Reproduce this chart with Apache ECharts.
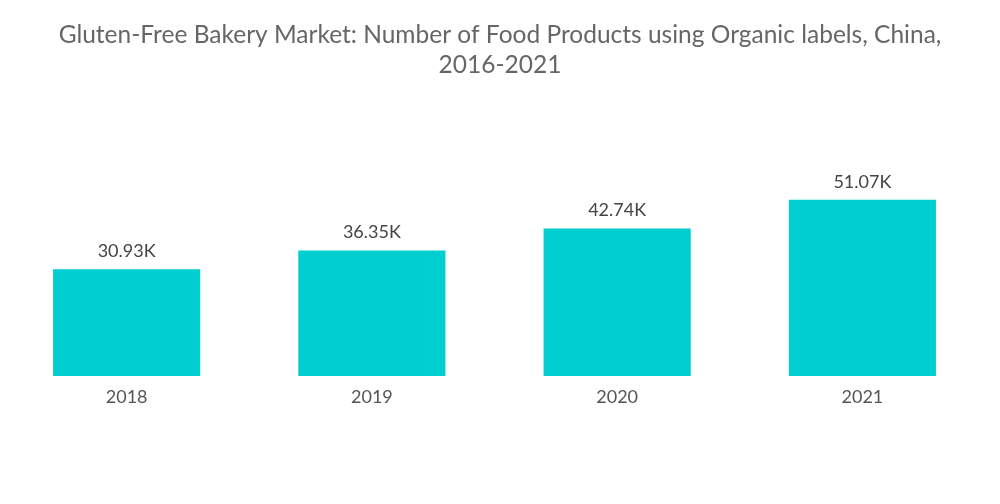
<!DOCTYPE html>
<html><head><meta charset="utf-8">
<script src="https://cdn.jsdelivr.net/npm/echarts@6/dist/echarts.min.js"></script>
<style>html,body{margin:0;padding:0;background:#fff}#c{width:1000px;height:504px}</style>
</head><body><div id="c"></div>
<script>
const categories = ['2018', '2019', '2020', '2021'];
const values = [30.93, 36.35, 42.74, 51.07];
const titleText = 'Gluten-Free Bakery Market: Number of Food Products using Organic labels, China,\n2016-2021';

const chart = echarts.init(document.getElementById('c'));
chart.setOption({
  backgroundColor: '#fff',
  animation: false,
  title: {
    text: titleText, left: 'center', top: 15,
    textStyle: { fontFamily: 'Lato', fontWeight: 'normal', fontSize: 24.5, color: '#666', lineHeight: 30 }
  },
  grid: { left: 4, right: 15, top: 169, bottom: 128 },
  xAxis: {
    type: 'category', data: categories,
    axisLine: { show: false }, axisTick: { show: false },
    axisLabel: { fontFamily: 'Lato', fontSize: 18, color: '#555', margin: 12 }
  },
  yAxis: { type: 'value', min: 0, max: 60, show: false, splitLine: { show: false } },
  series: [{
    type: 'bar', data: values, barWidth: '60%',
    itemStyle: { color: '#00CED1' },
    label: { show: true, position: 'top', distance: 9, fontFamily: 'Lato', fontSize: 18, color: '#444',
      formatter: p => p.value.toFixed(2) + 'K' }
  }]
});
</script></body></html>
